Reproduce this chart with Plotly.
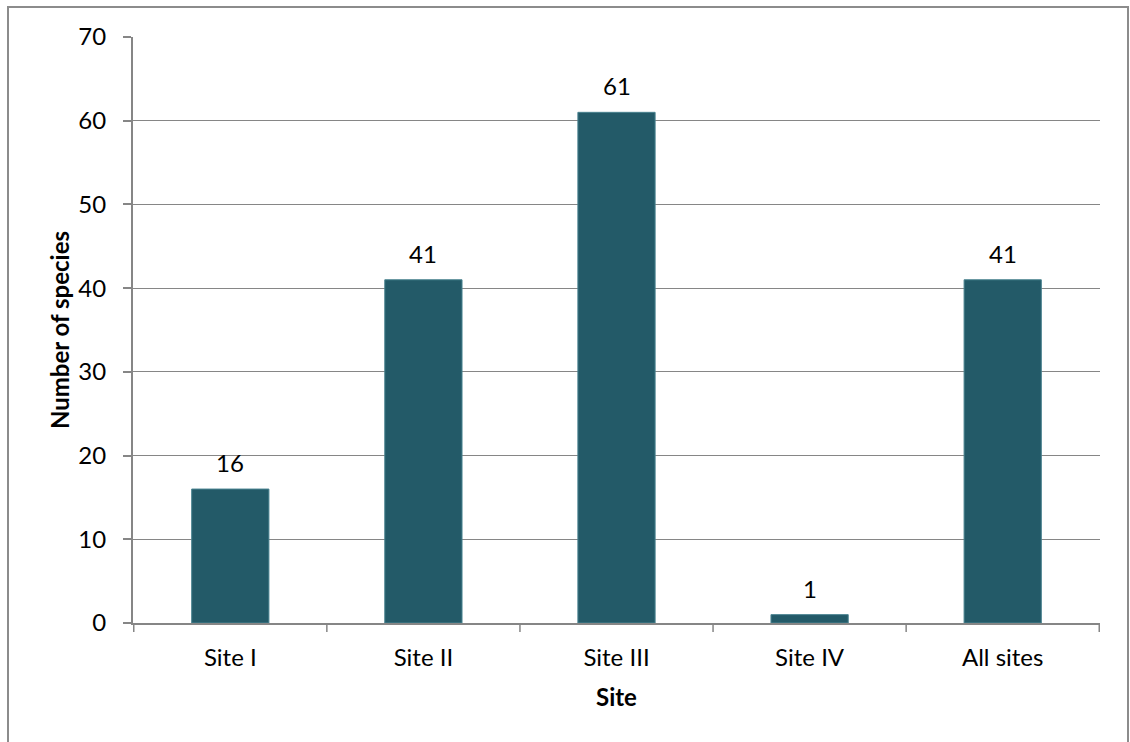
import plotly.graph_objects as go

sites = ["Site I", "Site II", "Site III", "Site IV", "All sites"]
species_counts = [16, 41, 61, 1, 41]
y_ticks = [0, 10, 20, 30, 40, 50, 60, 70]

W, H = 1130, 742
L, R, T, B = 133, 30, 37, 119
pw, ph = W - L - R, H - T - B

font_family = "Lato, 'Open Sans', sans-serif"
grid_col = "#868686"
fs = 24

fig = go.Figure()
fig.add_trace(go.Bar(
    x=sites,
    y=species_counts,
    marker=dict(color="#235A68", line=dict(color="#4A8390", width=1)),
    width=0.4,
))

# value labels above each bar
for s, v in zip(sites, species_counts):
    fig.add_annotation(x=s, y=v, xref="x", yref="y", text=str(v),
                       showarrow=False, yanchor="bottom", yshift=10,
                       font=dict(family=font_family, size=fs, color="#000000"))

fig.update_layout(
    width=W, height=H,
    margin=dict(l=L, r=R, t=T, b=B, pad=0),
    paper_bgcolor="white",
    plot_bgcolor="white",
    showlegend=False,
    font=dict(family=font_family, size=fs, color="#000000"),
    xaxis=dict(
        showline=True, linecolor=grid_col, linewidth=2,
        ticks="outside", ticklen=0, tickfont=dict(size=fs),
        ticklabelstandoff=12,
        title=dict(text="<b>Site</b>", font=dict(size=fs), standoff=19),
        showgrid=False,
    ),
    yaxis=dict(
        range=[0, 70], tickvals=y_ticks, ticktext=[str(t) for t in y_ticks],
        showline=True, linecolor=grid_col, linewidth=2,
        ticks="outside", ticklen=8, tickcolor=grid_col, tickwidth=1.5,
        tickfont=dict(size=fs), ticklabelstandoff=12,
        showgrid=True, gridcolor=grid_col, gridwidth=1,
        zeroline=False,
        title=dict(text="<b>Number of species</b>", font=dict(size=fs), standoff=2),
    ),
)

# category separator ticks below the x axis
for i in range(len(sites) + 1):
    fig.add_shape(type="line", xref="x", yref="paper",
                  x0=i - 0.5, x1=i - 0.5, y0=0, y1=-9 / ph,
                  line=dict(color=grid_col, width=1.5))

# outer chart border
fig.add_shape(type="rect", xref="paper", yref="paper",
              x0=(8 - L) / pw, x1=(1128 - L) / pw,
              y0=-(H + 20 - T - ph) / ph, y1=(T - 7 + ph) / ph,
              line=dict(color="#8C8C8C", width=2), fillcolor="rgba(0,0,0,0)",
              layer="below")

fig.write_html("out.html")
